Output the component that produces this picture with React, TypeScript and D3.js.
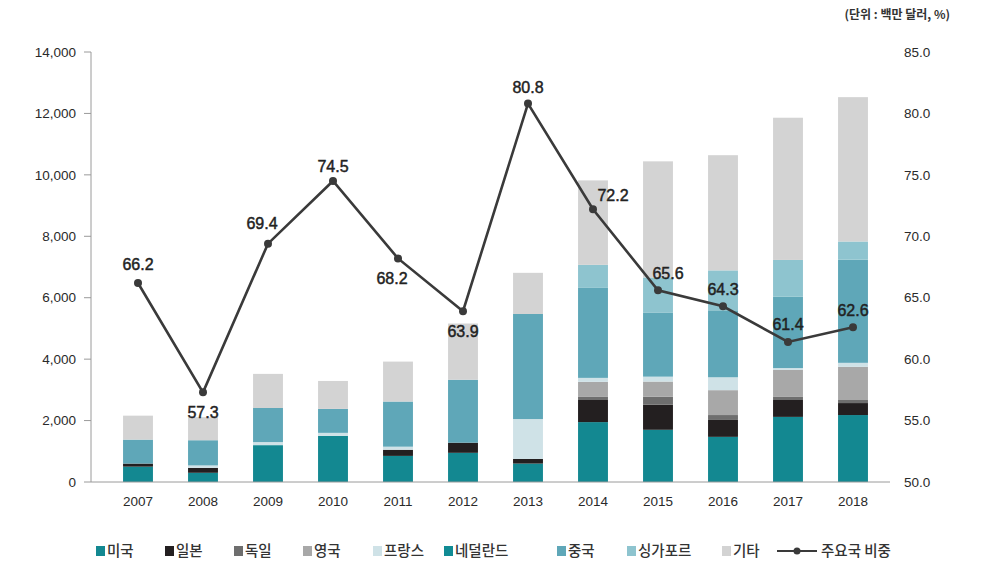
import React from "react";
import * as d3 from "d3";

const years = ["2007","2008","2009","2010","2011","2012","2013","2014","2015","2016","2017","2018"];
const usa = [500, 300, 1200, 1500, 850, 950, 600, 1950, 1700, 1470, 2120, 2180];
const japan = [100, 160, 0, 0, 200, 330, 150, 720, 820, 550, 550, 390];
const germany = [0, 0, 0, 0, 0, 0, 0, 100, 260, 160, 100, 100];
const uk = [0, 0, 0, 0, 0, 0, 0, 490, 490, 810, 880, 1080];
const france = [0, 80, 100, 100, 100, 0, 1300, 130, 160, 420, 60, 130];
const netherlands = [0, 0, 0, 0, 0, 0, 0, 0, 0, 0, 0, 0];
const china = [780, 820, 1110, 780, 1470, 2050, 3420, 2930, 2090, 2180, 2320, 3360];
const singapore = [0, 0, 0, 0, 0, 0, 0, 750, 1140, 1300, 1200, 590];
const others = [780, 750, 1110, 910, 1300, 1830, 1340, 2750, 3780, 3750, 4630, 4700];
const share = [66.2, 57.3, 69.4, 74.5, 68.2, 63.9, 80.8, 72.2, 65.6, 64.3, 61.4, 62.6];

const leftTicks = [0, 2000, 4000, 6000, 8000, 10000, 12000, 14000];
const rightTicks = [50, 55, 60, 65, 70, 75, 80, 85];

const seriesNames = ["미국", "일본", "독일", "영국", "프랑스", "네덜란드", "중국", "싱가포르", "기타"];
const seriesValues = [usa, japan, germany, uk, france, netherlands, china, singapore, others];
const lineName = "주요국 비중";
const unitLabel = "(단위 : 백만 달러, %)";

const colors = ["#138891", "#231f20", "#6e6e6e", "#a8a8a8", "#cfe2e7", "#118b94", "#5fa7b8", "#8ec4cf", "#d3d3d3"];
// label offsets relative to marker (dx, dy of label center)
const labelOffsets: [number, number][] = [
  [0, -19], [0, 20], [-6, -20], [0, -15], [-6, 20], [0, 20],
  [0, -16], [20, -14], [10, -17], [0, -17], [0, -18], [0, -17],
];
const legendX = [96, 165, 234, 303, 373, 444, 557, 627, 722];

export default function App() {
  const W = 997, H = 577;
  const top = 52, bottom = 482;
  const x = d3.scaleBand<string>().domain(years).range([105.5, 885.5]).paddingInner(0.54).paddingOuter(0.27);
  const yL = d3.scaleLinear().domain([0, 14000]).range([bottom, top]);
  const yR = d3.scaleLinear().domain([50, 85]).range([bottom, top]);

  const table = years.map((yr, i) => {
    const row: any = { year: yr };
    seriesNames.forEach((n, k) => (row[n] = seriesValues[k][i]));
    return row;
  });
  const stacked = d3.stack().keys(seriesNames)(table);

  const cx = (i: number) => (x(years[i]) as number) + x.bandwidth() / 2;
  const line = d3.line<number>().x((_, i) => cx(i)).y((d) => yR(d));

  const fmt = d3.format(",");
  const font = "'Liberation Sans', Arial, sans-serif";
  const kfont = "'Noto Sans CJK KR', 'Noto Sans', sans-serif";

  return (
    <div style={{ position: "absolute", left: 0, top: 0 }}>
      <svg width={W} height={H} style={{ display: "block", background: "#fff" }}>
        <text x={950} y={19} textAnchor="end" fontFamily={kfont} fontSize={12} fontWeight={700} fill="#333">{unitLabel}</text>

        {stacked.map((s, k) => (
          <g key={seriesNames[k]} fill={colors[k]}>
            {s.map((d, i) => {
              const h = yL(d[0]) - yL(d[1]);
              if (h <= 0) return null;
              return <rect key={i} x={x(years[i])} y={yL(d[1])} width={x.bandwidth()} height={h} />;
            })}
          </g>
        ))}

        {/* left axis */}
        <line x1={91} x2={91} y1={top} y2={bottom} stroke="#9a9a9a" strokeWidth={1} />
        {leftTicks.map((t) => (
          <g key={t}>
            <line x1={84} x2={91} y1={yL(t)} y2={yL(t)} stroke="#9a9a9a" />
            <text x={76} y={yL(t)} dy="0.35em" textAnchor="end" fontFamily={font} fontSize={13.5} fill="#2a2a2a">{fmt(t)}</text>
          </g>
        ))}
        <line x1={91} x2={890} y1={bottom} y2={bottom} stroke="#9a9a9a" strokeWidth={1} />
        {rightTicks.map((t) => (
          <text key={t} x={904} y={yR(t)} dy="0.35em" textAnchor="start" fontFamily={font} fontSize={13.5} fill="#2a2a2a">{t.toFixed(1)}</text>
        ))}
        {years.map((yr, i) => (
          <text key={yr} x={cx(i)} y={501} dy="0.35em" textAnchor="middle" fontFamily={font} fontSize={13.5} fill="#2a2a2a">{yr}</text>
        ))}

        <path d={line(share) || ""} fill="none" stroke="#3a3a3a" strokeWidth={2.6} />
        {share.map((v, i) => (
          <circle key={i} cx={cx(i)} cy={yR(v)} r={4} fill="#3a3a3a" />
        ))}
        {share.map((v, i) => (
          <text key={"l" + i} x={cx(i) + labelOffsets[i][0]} y={yR(v) + labelOffsets[i][1]} dy="0.35em" textAnchor="middle"
            fontFamily={font} fontSize={16} fill="#222" stroke="#222" strokeWidth={0.45}>{v.toFixed(1)}</text>
        ))}

        {/* legend */}
        {seriesNames.map((n, k) => (
          <g key={n}>
            <rect x={legendX[k]} y={546} width={9} height={10} fill={colors[k]} />
            <text x={legendX[k] + 11} y={551} dy="0.35em" fontFamily={kfont} fontSize={14.5} fontWeight={500} fill="#333">{n}</text>
          </g>
        ))}
        <line x1={777} x2={817} y1={551} y2={551} stroke="#3a3a3a" strokeWidth={2.2} />
        <circle cx={797} cy={551} r={3.5} fill="#3a3a3a" />
        <text x={821} y={551} dy="0.35em" fontFamily={kfont} fontSize={14.5} fontWeight={500} fill="#333">{lineName}</text>
      </svg>
    </div>
  );
}
